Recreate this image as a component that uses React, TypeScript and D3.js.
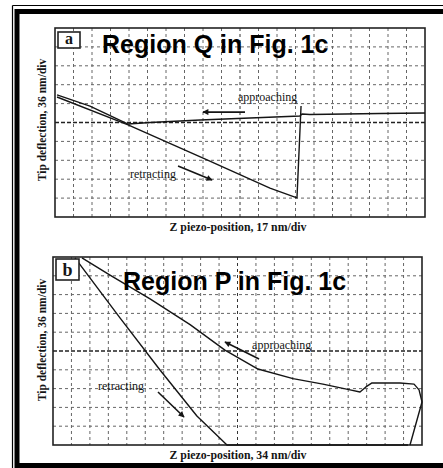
import React from "react";
import * as d3 from "d3";

// ---------- data (units: oscilloscope grid divisions) ----------
const xDivisions = 20;
const yDivisions = 10;

// Panel a – Region Q
const qApproachX = [20, 17.57, 13.78, 13.35, 13.24, 10.54, 7.84, 5.14, 3.95, 1.89, 0.11];
const qApproachY = [5.5, 5.48, 5.42, 5.45, 5.34, 5.24, 5.13, 5.0, 4.92, 5.87, 6.46];
const qRetractX = [0.11, 3.95, 8.22, 11.62, 13.08, 13.3];
const qRetractY = [6.35, 4.87, 3.02, 1.53, 1.01, 5.87];

// Panel b – Region P
const pApproachX = [1.57, 3.09, 5.26, 7.43, 9.32, 11.11, 13.01, 14.63, 16.1, 16.64, 16.96, 17.29, 18.81, 19.57, 19.84, 20.0, 19.35];
const pApproachY = [9.95, 9.04, 7.77, 6.4, 5.05, 4.04, 3.53, 3.24, 2.93, 2.82, 3.09, 3.3, 3.3, 3.24, 2.93, 2.29, 0];
const pRetractX = [1.19, 3.63, 5.8, 7.8, 9.43, 19.24];
const pRetractY = [9.95, 6.76, 3.99, 1.54, 0, 0];

const titles = ["Region Q in Fig. 1c", "Region P in Fig. 1c"];
const panelLetters = ["a", "b"];
const yLabels = ["Tip deflection, 36 nm/div", "Tip deflection, 36 nm/div"];
const xLabels = ["Z piezo-position, 17 nm/div", "Z piezo-position, 34 nm/div"];
const annoTexts = ["approaching", "retracting"];

const SERIF = "'Liberation Serif', 'Times New Roman', serif";
const SANS = "'Liberation Sans', Arial, sans-serif";
const INK = "#151515";

type Box = { x0: number; x1: number; y0: number; y1: number };

function Panel(props: {
  box: Box;
  idx: number;
  approach: [number, number][];
  retract: [number, number][];
  titleX: number;
  titleY: number;
  letterBox: { x: number; y: number; w: number; h: number };
  approachLabel: [number, number];
  approachArrow: [number, number, number, number];
  retractLabel: [number, number];
  retractArrow: [number, number, number, number];
  yLabelCenter: number;
  xLabelY: number;
}) {
  const { box, idx } = props;
  const x = d3.scaleLinear().domain([0, xDivisions]).range([box.x0, box.x1]);
  const y = d3.scaleLinear().domain([0, yDivisions]).range([box.y1, box.y0]);
  const line = d3
    .line<[number, number]>()
    .x((d) => x(d[0]))
    .y((d) => y(d[1]));
  const vTicks = d3.range(1, xDivisions);
  const hTicks = d3.range(1, yDivisions);
  const mk = `arrow${idx}`;
  const lb = props.letterBox;
  return (
    <g>
      <defs>
        <marker id={mk} viewBox="0 0 10 10" refX="9" refY="5" markerWidth="7" markerHeight="6" orient="auto" markerUnits="userSpaceOnUse">
          <path d="M0,0 L10,5 L0,10 z" fill={INK} />
        </marker>
      </defs>
      {/* grid */}
      {vTicks.map((t) => (
        <line
          key={"v" + t}
          x1={x(t)}
          x2={x(t)}
          y1={box.y0}
          y2={box.y1}
          stroke={t === xDivisions / 2 ? "#333" : "#666"}
          strokeWidth={1}
          strokeDasharray="3,3"
        />
      ))}
      {hTicks.map((t) => (
        <line
          key={"h" + t}
          x1={box.x0}
          x2={box.x1}
          y1={y(t)}
          y2={y(t)}
          stroke={t === yDivisions / 2 ? "#222" : "#666"}
          strokeWidth={t === yDivisions / 2 ? 1.3 : 1}
          strokeDasharray={t === yDivisions / 2 ? "4,2" : "3,3"}
        />
      ))}
      <rect x={box.x0} y={box.y0} width={box.x1 - box.x0} height={box.y1 - box.y0} fill="none" stroke="#222" strokeWidth={1.6} />
      {/* curves */}
      <path d={line(props.approach) || ""} fill="none" stroke={INK} strokeWidth={1.4} strokeLinejoin="round" />
      <path d={line(props.retract) || ""} fill="none" stroke={INK} strokeWidth={1.4} strokeLinejoin="round" />
      {/* letter box */}
      <rect x={lb.x} y={lb.y} width={lb.w} height={lb.h} fill="white" stroke="#222" strokeWidth={1.6} />
      <text x={lb.x + lb.w / 2} y={lb.y + lb.h - 4} textAnchor="middle" fontFamily={SERIF} fontWeight="bold" fontSize={idx === 0 ? 16 : 18} fill={INK}>
        {panelLetters[idx]}
      </text>
      {/* title */}
      <text x={props.titleX} y={props.titleY} fontFamily={SANS} fontWeight="bold" fontSize={25} fill="#000">
        {titles[idx]}
      </text>
      {/* annotations */}
      <text x={x(props.approachLabel[0])} y={y(props.approachLabel[1])} fontFamily={SERIF} fontSize={12} fill={INK}>
        {annoTexts[0]}
      </text>
      <line
        x1={x(props.approachArrow[0])}
        y1={y(props.approachArrow[1])}
        x2={x(props.approachArrow[2])}
        y2={y(props.approachArrow[3])}
        stroke={INK}
        strokeWidth={1.6}
        markerEnd={`url(#${mk})`}
      />
      <text x={x(props.retractLabel[0])} y={y(props.retractLabel[1])} fontFamily={SERIF} fontSize={12} fill={INK}>
        {annoTexts[1]}
      </text>
      <line
        x1={x(props.retractArrow[0])}
        y1={y(props.retractArrow[1])}
        x2={x(props.retractArrow[2])}
        y2={y(props.retractArrow[3])}
        stroke={INK}
        strokeWidth={1.6}
        markerEnd={`url(#${mk})`}
      />
      {/* axis labels */}
      <text
        transform={`translate(46,${props.yLabelCenter}) rotate(-90)`}
        textAnchor="middle"
        fontFamily={SERIF}
        fontWeight="bold"
        fontSize={11.5}
        fill={INK}
      >
        {yLabels[idx]}
      </text>
      <text x={238} y={props.xLabelY} textAnchor="middle" fontFamily={SERIF} fontWeight="bold" fontSize={11.8} fill={INK}>
        {xLabels[idx]}
      </text>
    </g>
  );
}

function zip(a: number[], b: number[]): [number, number][] {
  return a.map((v, i) => [v, b[i]] as [number, number]);
}

export default function App() {
  const W = 443;
  const H = 468;
  return (
    <div style={{ position: "absolute", left: 0, top: 0, width: W, height: H }}>
      <svg width={W} height={H} viewBox={`0 0 ${W} ${H}`} style={{ display: "block", background: "white" }}>
        <rect x={0} y={0} width={W} height={H} fill="white" />
        {/* outer double frame */}
        <line x1={12.5} y1={5.5} x2={W} y2={5.5} stroke="#000" strokeWidth={1.2} />
        <line x1={12.5} y1={5.5} x2={12.5} y2={H} stroke="#000" strokeWidth={1.2} />
        <rect x={17} y={11.5} width={W + 20} height={454} fill="none" stroke="#000" strokeWidth={5} />
        <Panel
          box={{ x0: 55, x1: 425, y0: 28, y1: 217 }}
          idx={0}
          approach={zip(qApproachX, qApproachY)}
          retract={zip(qRetractX, qRetractY)}
          titleX={102}
          titleY={53}
          letterBox={{ x: 58, y: 32, w: 22, h: 16 }}
          approachLabel={[9.89, 6.14]}
          approachArrow={[10.27, 5.55, 8.0, 5.55]}
          retractLabel={[4.05, 2.06]}
          retractArrow={[6.65, 2.7, 8.49, 1.96]}
          yLabelCenter={120}
          xLabelY={231}
        />
        <Panel
          box={{ x0: 53, x1: 422, y0: 257, y1: 445 }}
          idx={1}
          approach={zip(pApproachX, pApproachY)}
          retract={zip(pRetractX, pRetractY)}
          titleX={123}
          titleY={290}
          letterBox={{ x: 56, y: 259, w: 23, h: 21 }}
          approachLabel={[10.79, 5.11]}
          approachArrow={[11.17, 4.57, 9.32, 5.48]}
          retractLabel={[2.44, 2.93]}
          retractArrow={[5.69, 2.82, 7.1, 1.49]}
          yLabelCenter={340}
          xLabelY={459}
        />
      </svg>
    </div>
  );
}
